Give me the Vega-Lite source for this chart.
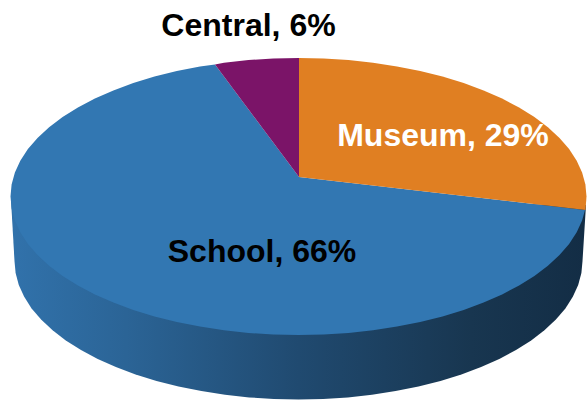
{
  "$schema": "https://vega.github.io/schema/vega-lite/v6.json",
  "width": 588,
  "height": 401,
  "padding": 0,
  "autosize": {"type": "none"},
  "background": "white",
  "view": {"stroke": null},
  "datasets": {
    "wall": [
      {"seq":1,"x":11,"y":200},{"seq":2,"x":14.5,"y":261},{"seq":3,"x":15.6,"y":273.1},{"seq":4,"x":18.8,"y":285},{"seq":5,"x":24.2,"y":296.8},{"seq":6,"x":31.6,"y":308.4},{"seq":7,"x":41.1,"y":319.5},{"seq":8,"x":52.6,"y":330.25},{"seq":9,"x":65.8,"y":340.4},{"seq":10,"x":81,"y":350},{"seq":11,"x":97.7,"y":358.9},{"seq":12,"x":115.9,"y":367.1},{"seq":13,"x":135.6,"y":374.5},{"seq":14,"x":156.5,"y":380.9},{"seq":15,"x":178.5,"y":386.5},{"seq":16,"x":201.4,"y":391.1},{"seq":17,"x":225,"y":394.8},{"seq":18,"x":249.2,"y":397.4},{"seq":19,"x":273.7,"y":399},{"seq":20,"x":298.5,"y":399.5},{"seq":21,"x":323.3,"y":399},{"seq":22,"x":347.8,"y":397.4},{"seq":23,"x":372,"y":394.8},{"seq":24,"x":395.6,"y":391.1},{"seq":25,"x":418.5,"y":386.5},{"seq":26,"x":440.5,"y":380.9},{"seq":27,"x":461.4,"y":374.5},{"seq":28,"x":481.1,"y":367.1},{"seq":29,"x":499.3,"y":358.9},{"seq":30,"x":516,"y":350},{"seq":31,"x":531.2,"y":340.4},{"seq":32,"x":544.4,"y":330.25},{"seq":33,"x":555.9,"y":319.5},{"seq":34,"x":565.4,"y":308.4},{"seq":35,"x":572.8,"y":296.8},{"seq":36,"x":578.2,"y":285},{"seq":37,"x":581.4,"y":273.1},{"seq":38,"x":582.5,"y":261},{"seq":39,"x":586,"y":205}
    ],
    "slices": [
      {"slice":"School","seq":0,"x":299,"y":177},{"slice":"School","seq":1,"x":215,"y":64.5},{"slice":"School","seq":2,"x":200,"y":66.4},{"slice":"School","seq":3,"x":176.8,"y":71},{"slice":"School","seq":4,"x":154.5,"y":76.6},{"slice":"School","seq":5,"x":133.3,"y":83},{"slice":"School","seq":6,"x":113.4,"y":90.4},{"slice":"School","seq":7,"x":94.9,"y":98.6},{"slice":"School","seq":8,"x":77.9,"y":107.5},{"slice":"School","seq":9,"x":62.6,"y":117.1},{"slice":"School","seq":10,"x":49.1,"y":127.25},{"slice":"School","seq":11,"x":37.5,"y":138},{"slice":"School","seq":12,"x":27.9,"y":149.1},{"slice":"School","seq":13,"x":20.3,"y":160.7},{"slice":"School","seq":14,"x":14.9,"y":172.5},{"slice":"School","seq":15,"x":11.6,"y":184.4},{"slice":"School","seq":16,"x":10.5,"y":196.5},{"slice":"School","seq":17,"x":11.6,"y":208.6},{"slice":"School","seq":18,"x":14.9,"y":220.5},{"slice":"School","seq":19,"x":20.3,"y":232.3},{"slice":"School","seq":20,"x":27.9,"y":243.9},{"slice":"School","seq":21,"x":37.5,"y":255},{"slice":"School","seq":22,"x":49.1,"y":265.75},{"slice":"School","seq":23,"x":62.6,"y":275.9},{"slice":"School","seq":24,"x":77.9,"y":285.5},{"slice":"School","seq":25,"x":94.9,"y":294.4},{"slice":"School","seq":26,"x":113.4,"y":302.6},{"slice":"School","seq":27,"x":133.3,"y":310},{"slice":"School","seq":28,"x":154.5,"y":316.4},{"slice":"School","seq":29,"x":176.8,"y":322},{"slice":"School","seq":30,"x":200,"y":326.6},{"slice":"School","seq":31,"x":224,"y":330.3},{"slice":"School","seq":32,"x":248.5,"y":332.9},{"slice":"School","seq":33,"x":273.4,"y":334.5},{"slice":"School","seq":34,"x":298.5,"y":335},{"slice":"School","seq":35,"x":323.6,"y":334.5},{"slice":"School","seq":36,"x":348.5,"y":332.9},{"slice":"School","seq":37,"x":373,"y":330.3},{"slice":"School","seq":38,"x":397,"y":326.6},{"slice":"School","seq":39,"x":420.2,"y":322},{"slice":"School","seq":40,"x":442.5,"y":316.4},{"slice":"School","seq":41,"x":463.7,"y":310},{"slice":"School","seq":42,"x":483.6,"y":302.6},{"slice":"School","seq":43,"x":502.1,"y":294.4},{"slice":"School","seq":44,"x":519.1,"y":285.5},{"slice":"School","seq":45,"x":534.4,"y":275.9},{"slice":"School","seq":46,"x":547.9,"y":265.75},{"slice":"School","seq":47,"x":559.5,"y":255},{"slice":"School","seq":48,"x":569.1,"y":243.9},{"slice":"School","seq":49,"x":576.7,"y":232.3},{"slice":"School","seq":50,"x":582.1,"y":220.5},{"slice":"School","seq":51,"x":585,"y":210},
      {"slice":"Central","seq":0,"x":299,"y":177},{"slice":"Central","seq":1,"x":215,"y":64.5},{"slice":"Central","seq":2,"x":224,"y":62.7},{"slice":"Central","seq":3,"x":248.5,"y":60.1},{"slice":"Central","seq":4,"x":273.4,"y":58.5},{"slice":"Central","seq":5,"x":299,"y":58},
      {"slice":"Museum","seq":0,"x":299,"y":177},{"slice":"Museum","seq":1,"x":299,"y":58},{"slice":"Museum","seq":2,"x":323.6,"y":58.5},{"slice":"Museum","seq":3,"x":348.5,"y":60.1},{"slice":"Museum","seq":4,"x":373,"y":62.7},{"slice":"Museum","seq":5,"x":397,"y":66.4},{"slice":"Museum","seq":6,"x":420.2,"y":71},{"slice":"Museum","seq":7,"x":442.5,"y":76.6},{"slice":"Museum","seq":8,"x":463.7,"y":83},{"slice":"Museum","seq":9,"x":483.6,"y":90.4},{"slice":"Museum","seq":10,"x":502.1,"y":98.6},{"slice":"Museum","seq":11,"x":519.1,"y":107.5},{"slice":"Museum","seq":12,"x":534.4,"y":117.1},{"slice":"Museum","seq":13,"x":547.9,"y":127.25},{"slice":"Museum","seq":14,"x":559.5,"y":138},{"slice":"Museum","seq":15,"x":569.1,"y":149.1},{"slice":"Museum","seq":16,"x":576.7,"y":160.7},{"slice":"Museum","seq":17,"x":582.1,"y":172.5},{"slice":"Museum","seq":18,"x":585.4,"y":184.4},{"slice":"Museum","seq":19,"x":586.5,"y":196.5},{"slice":"Museum","seq":20,"x":585.5,"y":210}
    ],
    "labels": [
      {"slice":"School","share":66,"label":"School, 66%","x":262,"y":252},
      {"slice":"Museum","share":29,"label":"Museum, 29%","x":443,"y":136},
      {"slice":"Central","share":6,"label":"Central, 6%","x":248.5,"y":25.5}
    ]
  },
  "encoding": {
    "x": {"field": "x", "type": "quantitative", "axis": null, "scale": {"domain": [0, 588], "nice": false, "zero": false}},
    "y": {"field": "y", "type": "quantitative", "axis": null, "scale": {"domain": [401, 0], "nice": false, "zero": false}}
  },
  "layer": [
    {
      "data": {"name": "wall"},
      "mark": {
        "type": "line",
        "interpolate": "linear-closed",
        "strokeWidth": 0,
        "fill": {
          "x1": 0, "y1": 0, "x2": 1, "y2": 0,
          "gradient": "linear",
          "stops": [
            {"offset": 0, "color": "#3172ab"},
            {"offset": 0.2, "color": "#2b6496"},
            {"offset": 0.5, "color": "#204a70"},
            {"offset": 0.8, "color": "#183650"},
            {"offset": 1, "color": "#132d45"}
          ]
        }
      },
      "encoding": {"order": {"field": "seq", "type": "quantitative"}}
    },
    {
      "data": {"name": "slices"},
      "mark": {"type": "line", "interpolate": "linear-closed", "strokeWidth": 0},
      "encoding": {
        "order": {"field": "seq", "type": "quantitative"},
        "detail": {"field": "slice"},
        "fill": {
          "field": "slice",
          "type": "nominal",
          "legend": null,
          "scale": {"domain": ["School", "Museum", "Central"], "range": ["#3277b2", "#e07f22", "#7b1468"]}
        }
      }
    },
    {
      "data": {"name": "labels"},
      "mark": {"type": "text", "font": "Liberation Sans", "fontWeight": "bold", "fontSize": 32, "baseline": "middle", "align": "center"},
      "encoding": {
        "text": {"field": "label"},
        "color": {
          "field": "slice",
          "type": "nominal",
          "legend": null,
          "scale": {"domain": ["School", "Museum", "Central"], "range": ["#000000", "#ffffff", "#000000"]}
        }
      }
    }
  ],
  "resolve": {"scale": {"color": "independent"}}
}
